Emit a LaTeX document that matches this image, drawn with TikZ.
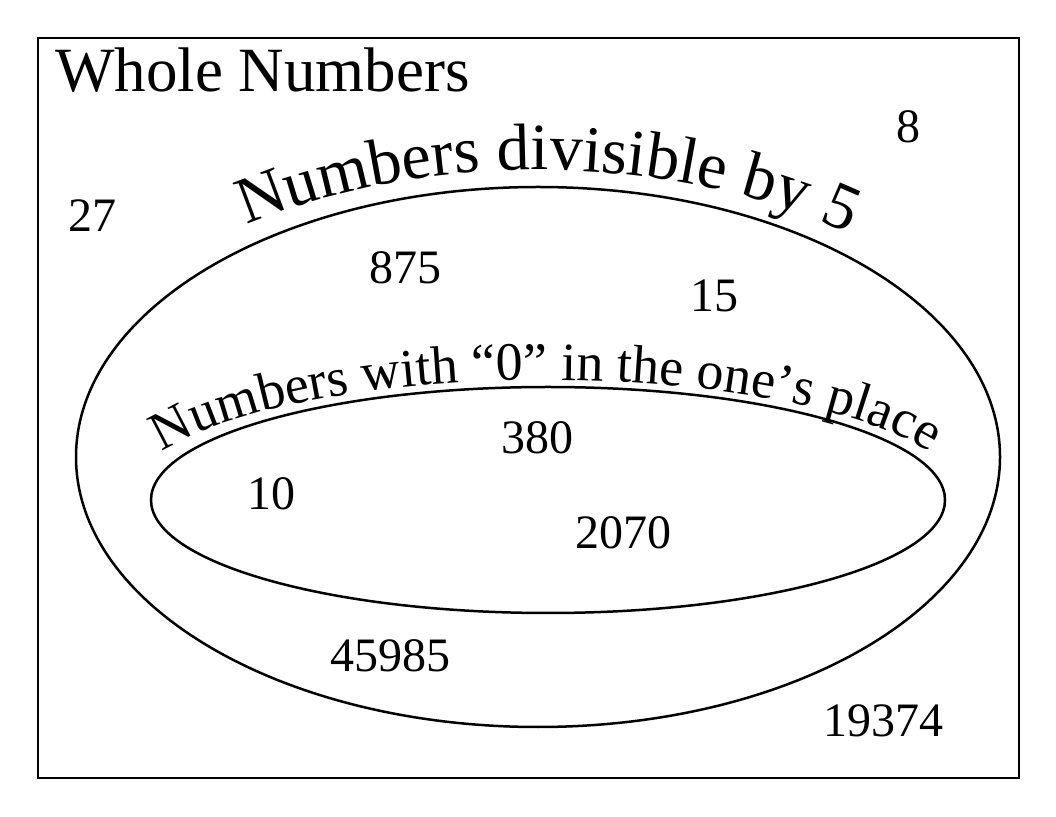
\documentclass[tikz,border=0pt]{standalone}
\usepackage{fontspec}
\setmainfont{Liberation Serif}
\usetikzlibrary{shapes.geometric, decorations.text}

\begin{document}
\begin{tikzpicture}[x=1pt, y=1pt, line width=2.5pt,
        num/.style={font=\fontsize{48}{50}\selectfont, inner sep=0pt}]

        \useasboundingbox (0, 0) rectangle (1056, 816);

        \node (whole) at (528.5, 408) [draw, rectangle, minimum width=981pt, minimum height=740pt, inner sep=0pt] {};
        \node (title) at (54, 724) [anchor=base west, inner sep=0pt, font=\fontsize{63}{70}\selectfont] {Whole Numbers};

        \node (five) at (538, 359) [draw, ellipse, minimum width=924pt, minimum height=540pt, inner sep=0pt] {};
        \node (zero) at (548, 316) [draw, ellipse, minimum width=794pt, minimum height=226pt, inner sep=0pt] {};

        \path[decorate, decoration={text along path, text align=center,
            text={|\fontsize{66}{70}\selectfont|Numbers divisible by 5}}]
            ([shift={(170:495 and 287)}]five.center) arc[start angle=170, end angle=6, x radius=495, y radius=287];
        \path[decorate, decoration={text along path, text align=center,
            text={|\fontsize{54}{60}\selectfont|Numbers with “0” in the one’s place}}]
            ([shift={(175:420 and 122)}]546, 314) arc[start angle=175, end angle=5, x radius=420, y radius=122];

        \node (n27) at (92, 600) [num] {27};
        \node (n8) at (908, 689) [num] {8};
        \node (n875) at (405, 548) [num] {875};
        \node (n15) at (714, 520) [num] {15};
        \node (n380) at (537, 378) [num] {380};
        \node (n10) at (271, 322) [num] {10};
        \node (n2070) at (623, 283) [num] {2070};
        \node (n45985) at (390, 160) [num] {45985};
        \node (n19374) at (883, 95) [num] {19374};

    \end{tikzpicture}
\end{document}
